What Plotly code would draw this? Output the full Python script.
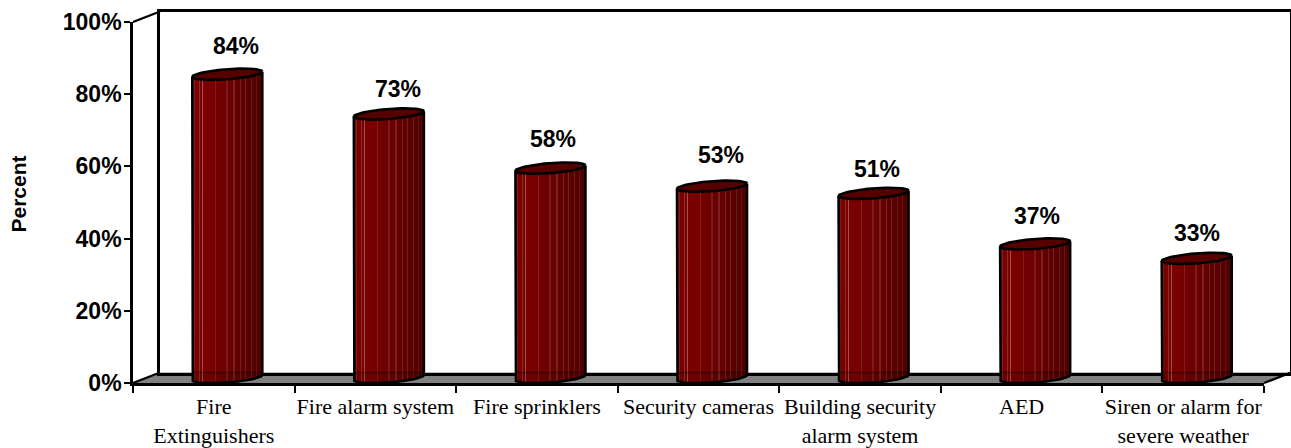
import numpy as np
import plotly.graph_objects as go

categories = ["Fire<br>Extinguishers", "Fire alarm system", "Fire sprinklers", "Security cameras",
              "Building security<br>alarm system", "AED", "Siren or alarm for<br>severe weather"]
values = [84, 73, 58, 53, 51, 37, 33]
value_labels = ["84%", "73%", "58%", "53%", "51%", "37%", "33%"]
y_ticks = [0, 20, 40, 60, 80, 100]
y_tick_labels = ["0%", "20%", "40%", "60%", "80%", "100%"]
label_nudge_px = [8.5, 9.5, 3, 9, 3, 2, 0]
label_lift_px = [28, 25, 29, 31, 24, 28, 25]

W, H = 1291, 448
FX0, FX1, FY0, FY1 = 133.0, 1264.0, 383.0, 22.0      # front plane, pixels
BX, BY = 27.0, -10.5                                  # back wall offset, pixels
MX, MY = 13.5, -5.5                                   # plane holding the cylinders
PX_X = (FX1 - FX0) / 7
PX_Y = (FY0 - FY1) / 100
BAR_W = 70.0
A = BAR_W / 2
B_PX, TILT = 5.0, 2.6 / 35
Y_PAD = 4.0   # extra room under zero on the cylinder plane, for the curved rim
FLOOR_Y = (BY - MY) * -1 / PX_Y   # back edge of the floor, in cylinder-plane units

def xdom(dx): return [(FX0 + dx) / W, min((W - 1) / W, (FX1 + dx) / W)]
def ydom(dy, pad=0.0): return [1 - (FY0 + dy + pad * PX_Y) / H, 1 - (FY1 + dy) / H]

# strip colours across the cylinder, left to right
N = 70
def strip_colour(i):
    f = (i + .5) / N
    if f < .04: c = (132, 28, 28)
    elif f < .30: c = (122, 0, 0)
    elif f < .55: c = (118 - (f - .3) * 50, 0, 0)
    else: c = (106 - (f - .55) * 60, 0, 0)
    for s, k in [(.10, .30), (.145, .55), (.33, .20), (.50, .18), (.60, .22), (.69, .22), (.77, .22), (.85, .18), (.92, .14)]:
        if abs(f - s) < .5 / N:
            c = tuple(v + (190 - v) * k if n == 0 else v + 150 * k for n, v in enumerate(c))
    return "rgb(%d,%d,%d)" % tuple(c)

fig = go.Figure()

# empty traces so that the frame axes are drawn
for xa, ya in [("x", "y"), ("x2", "y2"), ("x4", "y2")]:
    fig.add_trace(go.Scatter(x=[None], y=[None], xaxis=xa, yaxis=ya, mode="lines",
                             hoverinfo="skip", showlegend=False))

# cylinders
for s in range(N):
    f0 = s / N
    dx_px = (f0 + .5 / N - .5) * BAR_W
    xs = [i + .5 + dx_px / PX_X for i in range(7)]
    u = dx_px / A
    low = (TILT * dx_px - B_PX * np.sqrt(max(0, 1 - u * u))) / PX_Y
    top = (TILT * dx_px) / PX_Y
    fig.add_trace(go.Bar(x=xs, y=[v + top - low for v in values], base=low,
                         width=(BAR_W / N + .6) / PX_X, marker=dict(color=strip_colour(s), line_width=0),
                         xaxis="x3", yaxis="y3", hoverinfo="skip", showlegend=False))

t = np.linspace(0, 2 * np.pi, 73)
for i, v in enumerate(values):
    cx = i + .5
    ex_px = A * np.cos(t)
    ey_px = TILT * ex_px + B_PX * np.sin(t)
    tb = np.linspace(np.pi, 2 * np.pi, 37)
    bx_px = A * np.cos(tb)
    by_px = TILT * bx_px + B_PX * np.sin(tb)
    # floor seen faintly through the cylinder
    fig.add_trace(go.Scatter(x=np.concatenate([cx + bx_px / PX_X, [cx + A / PX_X, cx - A / PX_X]]),
                             y=np.concatenate([by_px / PX_Y, [FLOOR_Y, FLOOR_Y]]),
                             mode="lines", fill="toself", fillcolor="rgba(0,0,0,0.10)", line_width=0,
                             xaxis="x3", yaxis="y3", hoverinfo="skip", showlegend=False))
    fig.add_trace(go.Scatter(x=[cx - A / PX_X, cx + A / PX_X], y=[FLOOR_Y, FLOOR_Y], mode="lines",
                             line=dict(color="rgba(0,0,0,0.30)", width=2),
                             xaxis="x3", yaxis="y3", hoverinfo="skip", showlegend=False))
    # cap
    fig.add_trace(go.Scatter(x=cx + ex_px / PX_X, y=v + ey_px / PX_Y, mode="lines", fill="toself",
                             fillcolor="#560000", line=dict(color="black", width=2.6),
                             xaxis="x3", yaxis="y3", hoverinfo="skip", showlegend=False))
    # outline: sides and lower rim
    ox = np.concatenate([[cx - A / PX_X], cx + bx_px / PX_X, [cx + A / PX_X]])
    oy = np.concatenate([[v - TILT * A / PX_Y], by_px / PX_Y, [v + TILT * A / PX_Y]])
    fig.add_trace(go.Scatter(x=ox, y=oy, mode="lines", line=dict(color="black", width=2.6),
                             xaxis="x3", yaxis="y3", hoverinfo="skip", showlegend=False))

line = dict(showline=True, linecolor="black", linewidth=2.6, showgrid=False, zeroline=False, automargin=False)
bold = dict(family="Liberation Sans", size=23, color="black", weight="bold")

# back wall (x,y), front frame (x2,y2), cylinder plane (x3,y3), category labels (x4)
fig.update_layout(
    width=W, height=H, margin=dict(l=0, r=0, t=0, b=0), autosize=False,
    paper_bgcolor="white", plot_bgcolor="rgba(0,0,0,0)", showlegend=False, barmode="overlay", bargap=0,
    xaxis=dict(domain=xdom(BX), range=[0, 7 * (min(W - 1, FX1 + BX) - FX0 - BX) / (FX1 - FX0)], showticklabels=False,
               ticks="", mirror=True, anchor="y", **line),
    yaxis=dict(domain=ydom(BY), range=[0, 100], showticklabels=False, ticks="", mirror=True, anchor="x", **line),
    xaxis2=dict(domain=xdom(0), range=[0, 7], anchor="y2", tickvals=list(range(8)), ticks="outside",
                ticklen=7, tickwidth=2.4, tickcolor="black", showticklabels=False, **line),
    yaxis2=dict(domain=ydom(0), range=[0, 100], anchor="x2", tickvals=y_ticks, ticktext=y_tick_labels,
                ticks="outside", ticklen=6, tickwidth=2.4, tickcolor="black", tickfont=bold, ticklabelstandoff=-2, **line),
    xaxis3=dict(domain=xdom(MX), range=[0, 7], anchor="y3", visible=False, automargin=False),
    yaxis3=dict(domain=ydom(MY, Y_PAD), range=[-Y_PAD, 100], anchor="x3", visible=False, automargin=False),
    xaxis4=dict(range=[0, 7], overlaying="x2", anchor="y2", tickvals=[i + .5 for i in range(7)],
                ticktext=categories, ticks="", ticklabelstandoff=8, showgrid=False, zeroline=False,
                showline=False, automargin=False, tickfont=dict(family="Liberation Serif", size=22, color="black")),
)

# floor and depth edges
def px(xp, yp): return "%.5f %.5f" % (xp / W, 1 - yp / H)
fx0, fx1, fy = FX0, FX1, FY0
fig.add_shape(type="path", xref="paper", yref="paper", layer="below", line_width=0, fillcolor="#808080",
              path="M %s L %s L %s L %s Z" % (px(fx0, fy), px(fx0 + BX, fy + BY), px(fx1 + BX, fy + BY), px(fx1, fy)))
for (a, b) in [((fx0, fy), (fx0 + BX, fy + BY)), ((fx1, fy), (fx1 + BX, fy + BY)),
               ((fx0, FY1), (fx0 + BX, FY1 + BY))]:
    fig.add_shape(type="line", xref="paper", yref="paper", x0=a[0] / W, y0=1 - a[1] / H, x1=b[0] / W, y1=1 - b[1] / H,
                  line=dict(color="black", width=2.4), layer="below")

# value labels
for i, v in enumerate(values):
    fig.add_annotation(x=i + .5, y=v, xref="x3", yref="y3", text=value_labels[i], showarrow=False,
                       xshift=label_nudge_px[i], yshift=label_lift_px[i], font=bold)

fig.add_annotation(x=17.5 / W, y=1 - 194 / H, xref="paper", yref="paper", text="Percent", textangle=-90, showarrow=False,
                   xanchor="center", yanchor="middle",
                   font=dict(family="Liberation Sans", size=21, color="black", weight="bold"))

fig.write_html("out.html", config=dict(displayModeBar=False), post_script="document.body.style.margin='0';")
